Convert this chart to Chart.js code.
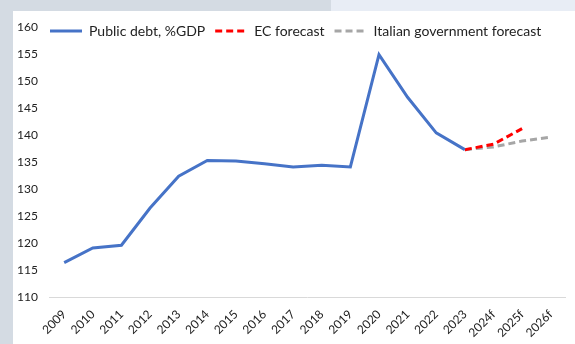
<!DOCTYPE html>
<html>
<head>
<meta charset="utf-8">
<script src="https://cdn.jsdelivr.net/npm/chart.js@4/dist/chart.umd.min.js"></script>
<style>
html,body{margin:0;padding:0;width:575px;height:344px;overflow:hidden;background:#d4dbe3;position:relative;}
#topright{position:absolute;left:331px;top:0;width:244px;height:11px;background:#e8edf5;}
#panel{position:absolute;left:13px;top:11px;width:562px;height:333px;background:#ffffff;}
#c{position:absolute;left:13px;top:-7px;}
</style>
</head>
<body>
<div id="topright"></div>
<div id="panel"></div>
<canvas id="c" width="562" height="351"></canvas>
<script>
const categories = ['2009','2010','2011','2012','2013','2014','2015','2016','2017','2018','2019','2020','2021','2022','2023','2024f','2025f','2026f'];
const publicDebt = [116.4,119.1,119.6,126.5,132.4,135.3,135.2,134.7,134.1,134.4,134.1,154.9,147.0,140.4,137.3,null,null,null];
const ecForecast = [null,null,null,null,null,null,null,null,null,null,null,null,null,null,137.3,138.3,141.2,null];
const itForecast = [null,null,null,null,null,null,null,null,null,null,null,null,null,null,137.3,137.8,138.9,139.6];
const seriesNames = ['Public debt, %GDP','EC forecast','Italian government forecast'];
const yMin = 110, yMax = 160, yStep = 5;

// place the legend inside the plot area, top-left (as in the reference)
const legendShift = {
  id: 'legendShift',
  afterLayout(chart) {
    const l = chart.legend;
    if (!l) return;
    const h = l.bottom - l.top;
    const w = l.right - l.left;
    l.top = 21; l.bottom = l.top + h;
    l.left = 27; l.right = l.left + w;
  }
};

new Chart(document.getElementById('c'), {
  type: 'line',
  data: {
    labels: categories,
    datasets: [
      {label: seriesNames[0], data: publicDebt, borderColor: '#4673c7', backgroundColor: '#4673c7', borderWidth: 3, pointRadius: 0, tension: 0},
      {label: seriesNames[1], data: ecForecast, borderColor: '#ff0000', backgroundColor: '#ff0000', borderWidth: 3, borderDash: [7,4], pointRadius: 0, tension: 0},
      {label: seriesNames[2], data: itForecast, borderColor: '#a6a6a6', backgroundColor: '#a6a6a6', borderWidth: 3, borderDash: [7,4], pointRadius: 0, tension: 0}
    ]
  },
  options: {
    responsive: false,
    animation: false,
    layout: {padding: {top: 0, right: 10, bottom: 2, left: 0}},
    plugins: {
      tooltip: {enabled: false},
      legend: {
        position: 'top',
        align: 'start',
        labels: {
          usePointStyle: true,
          pointStyle: 'line',
          pointStyleWidth: 32,
          padding: 10,
          color: '#222222',
          font: {family: 'Lato', size: 14},
          generateLabels(chart) {
            const items = Chart.defaults.plugins.legend.labels.generateLabels(chart);
            items.forEach(it => {
              const ds = chart.data.datasets[it.datasetIndex];
              it.lineDash = ds.borderDash || [];
              it.lineWidth = 3;
              it.strokeStyle = ds.borderColor;
            });
            return items;
          }
        }
      }
    },
    scales: {
      x: {
        offset: true,
        grid: {display: false},
        border: {display: true, color: '#d9d9d9', width: 1},
        ticks: {color: '#222222', font: {family: 'Lato', size: 12}, maxRotation: 45, minRotation: 45, autoSkip: false, padding: 2}
      },
      y: {
        min: yMin, max: yMax,
        grid: {display: false},
        border: {display: false},
        ticks: {stepSize: yStep, color: '#222222', font: {family: 'Lato', size: 12}, padding: 4}
      }
    }
  },
  plugins: [legendShift]
});
</script>
</body>
</html>
